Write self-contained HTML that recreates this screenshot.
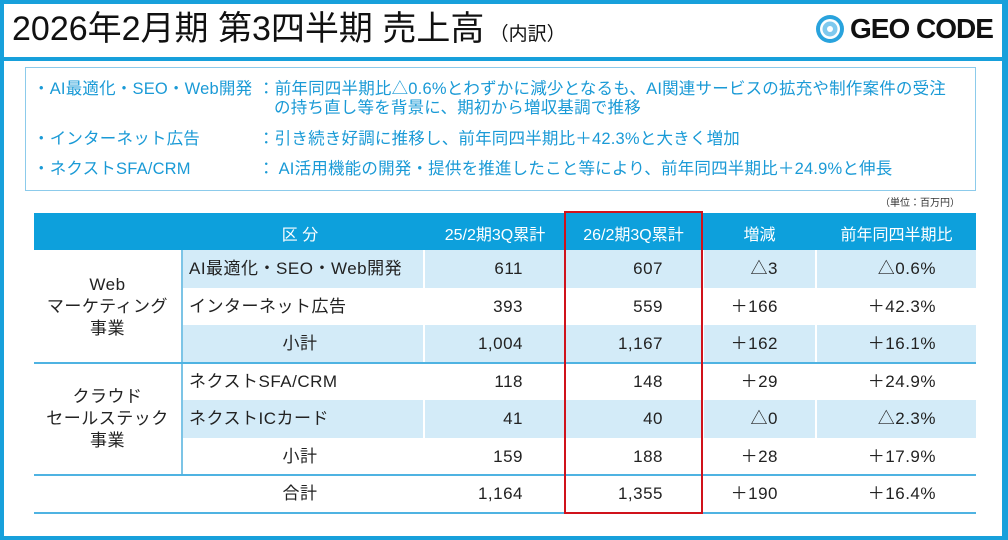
<!DOCTYPE html>
<html><head><meta charset="utf-8"><style>
*{margin:0;padding:0;box-sizing:border-box}
body{width:1008px;height:540px;background:#fff;position:relative;overflow:hidden;font-family:"Liberation Sans","Noto Sans CJK JP",sans-serif}
.a{position:absolute;white-space:nowrap}
.b{color:#1a9ad6;font-size:16.5px;line-height:19px;letter-spacing:0.2px}
.t{font-size:17px;line-height:20px;color:#222;letter-spacing:0.5px}
.r{text-align:right}
.c{text-align:center}
.h{color:#fff;font-size:16px}
</style></head><body>
<div class="a" style="left:0;top:0;width:1008px;height:540px;border:4px solid #17a0db;border-right-width:6px"></div>
<div class="a" style="left:0;top:57px;width:1008px;height:4px;background:#17a0db"></div>
<div class="a" style="left:12px;top:9px;font-size:34px;line-height:40px;color:#111">2026年2月期 第3四半期 売上高<span style="font-size:19px"> （内訳）</span></div>
<svg class="a" style="left:815px;top:14px" width="30" height="30"><circle cx="15" cy="15" r="14" fill="#29a3dd"/><circle cx="15" cy="15" r="10" fill="#fff"/><circle cx="15" cy="15" r="7.5" fill="#7fc9ee"/><circle cx="15" cy="15" r="3" fill="#fff"/></svg>
<div class="a" style="left:850px;top:12px;font-size:28px;line-height:34px;font-weight:bold;color:#111;letter-spacing:-1px">GEO CODE</div>
<div class="a" style="left:25px;top:67px;width:951px;height:124px;border:1.5px solid #8ccbeb"></div>
<div class="a b" style="left:33px;top:80px">・AI最適化・SEO・Web開発</div>
<div class="a b" style="left:258px;top:80px">：前年同四半期比△0.6%とわずかに減少となるも、AI関連サービスの拡充や制作案件の受注</div>
<div class="a b" style="left:274px;top:99px">の持ち直し等を背景に、期初から増収基調で推移</div>
<div class="a b" style="left:33px;top:130px">・インターネット広告</div>
<div class="a b" style="left:258px;top:130px">：引き続き好調に推移し、前年同四半期比＋42.3%と大きく増加</div>
<div class="a b" style="left:33px;top:160px">・ネクストSFA/CRM</div>
<div class="a b" style="left:258px;top:160px">： AI活用機能の開発・提供を推進したこと等により、前年同四半期比＋24.9%と伸長</div>
<div class="a" style="left:880px;top:194px;font-size:10px;color:#333">（単位：百万円）</div>
<div class="a" style="left:34px;top:213px;width:942px;height:37px;background:#0da0dc"></div>
<div class="a h c" style="left:260px;top:221px;width:80px">区 分</div>
<div class="a h c" style="left:425px;top:221px;width:140px">25/2期3Q累計</div>
<div class="a h c" style="left:565px;top:221px;width:137px">26/2期3Q累計</div>
<div class="a h c" style="left:702px;top:221px;width:115px">増減</div>
<div class="a h c" style="left:817px;top:221px;width:159px">前年同四半期比</div>
<div class="a" style="left:181px;top:250px;width:795px;height:38px;background:#d3ebf8"></div>
<div class="a" style="left:181px;top:325px;width:795px;height:38px;background:#d3ebf8"></div>
<div class="a" style="left:181px;top:400px;width:795px;height:38px;background:#d3ebf8"></div>
<div class="a" style="left:423px;top:250px;width:2px;height:225px;background:#fff"></div>
<div class="a" style="left:702px;top:250px;width:2px;height:225px;background:#fff"></div>
<div class="a" style="left:815px;top:250px;width:2px;height:225px;background:#fff"></div>
<div class="a" style="left:181px;top:250px;width:1.5px;height:225px;background:#7cc4e6"></div>
<div class="a" style="left:34px;top:362px;width:942px;height:2px;background:#4fb3e2"></div>
<div class="a" style="left:34px;top:474px;width:942px;height:2px;background:#4fb3e2"></div>
<div class="a" style="left:34px;top:512px;width:942px;height:2px;background:#4fb3e2"></div>
<div class="a t c" style="left:34px;top:274px;width:147px;line-height:22px">Web<br>マーケティング<br>事業</div>
<div class="a t c" style="left:34px;top:386px;width:147px;line-height:22px">クラウド<br>セールステック<br>事業</div>

<div class="a t" style="left:189px;top:259px">AI最適化・SEO・Web開発</div>
<div class="a t" style="left:189px;top:297px">インターネット広告</div>
<div class="a t c" style="left:260px;top:334px;width:80px">小計</div>
<div class="a t" style="left:189px;top:372px">ネクストSFA/CRM</div>
<div class="a t" style="left:189px;top:409px">ネクストICカード</div>
<div class="a t c" style="left:260px;top:447px;width:80px">小計</div>
<div class="a t c" style="left:260px;top:484px;width:80px">合計</div>

<div class="a t r" style="left:420px;top:259px;width:103px">611</div>
<div class="a t r" style="left:420px;top:297px;width:103px">393</div>
<div class="a t r" style="left:420px;top:334px;width:103px">1,004</div>
<div class="a t r" style="left:420px;top:372px;width:103px">118</div>
<div class="a t r" style="left:420px;top:409px;width:103px">41</div>
<div class="a t r" style="left:420px;top:447px;width:103px">159</div>
<div class="a t r" style="left:420px;top:484px;width:103px">1,164</div>

<div class="a t r" style="left:560px;top:259px;width:103px">607</div>
<div class="a t r" style="left:560px;top:297px;width:103px">559</div>
<div class="a t r" style="left:560px;top:334px;width:103px">1,167</div>
<div class="a t r" style="left:560px;top:372px;width:103px">148</div>
<div class="a t r" style="left:560px;top:409px;width:103px">40</div>
<div class="a t r" style="left:560px;top:447px;width:103px">188</div>
<div class="a t r" style="left:560px;top:484px;width:103px">1,355</div>

<div class="a t r" style="left:690px;top:259px;width:88px">△3</div>
<div class="a t r" style="left:690px;top:297px;width:88px">＋166</div>
<div class="a t r" style="left:690px;top:334px;width:88px">＋162</div>
<div class="a t r" style="left:690px;top:372px;width:88px">＋29</div>
<div class="a t r" style="left:690px;top:409px;width:88px">△0</div>
<div class="a t r" style="left:690px;top:447px;width:88px">＋28</div>
<div class="a t r" style="left:690px;top:484px;width:88px">＋190</div>

<div class="a t r" style="left:820px;top:259px;width:116px">△0.6%</div>
<div class="a t r" style="left:820px;top:297px;width:116px">＋42.3%</div>
<div class="a t r" style="left:820px;top:334px;width:116px">＋16.1%</div>
<div class="a t r" style="left:820px;top:372px;width:116px">＋24.9%</div>
<div class="a t r" style="left:820px;top:409px;width:116px">△2.3%</div>
<div class="a t r" style="left:820px;top:447px;width:116px">＋17.9%</div>
<div class="a t r" style="left:820px;top:484px;width:116px">＋16.4%</div>

<div class="a" style="left:564px;top:211px;width:139px;height:303px;border:2.5px solid #d0121b"></div>
</body></html>
